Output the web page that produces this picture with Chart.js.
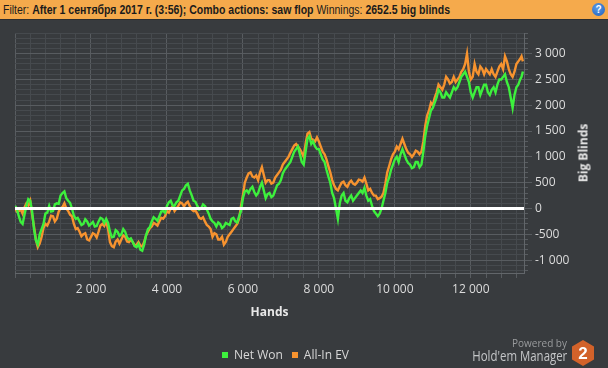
<!DOCTYPE html>
<html><head><meta charset="utf-8">
<script src="https://cdn.jsdelivr.net/npm/chart.js@4.4.1/dist/chart.umd.min.js"></script>
<style>
html,body{margin:0;padding:0;background:#383b3e;width:608px;height:368px;overflow:hidden}
#wrap{position:relative;width:608px;height:368px}
#c{position:absolute;left:0;top:0}
#hdr{position:absolute;left:0;top:0;width:608px;height:19px;background:#f5aa4c;border-bottom:1px solid #2c2e30;}
#hdrtxt{position:absolute;left:3px;top:3px;font:12px "Liberation Sans",Arial,sans-serif;color:#1b1b1b;white-space:nowrap;transform-origin:0 0}
#hdrtxt b{font-weight:bold}
#help{position:absolute;left:592px;top:3px;width:13px;height:13px;border-radius:50%;background:radial-gradient(circle at 40% 35%,#5b9be8,#1f5fb8);color:#fff;font:bold 10px "Liberation Sans",sans-serif;text-align:center;line-height:13px}
#ytitle{position:absolute;left:583px;top:153px;transform:translate(-50%,-50%) rotate(-90deg);font:bold 12px "Open Sans",sans-serif;color:#e8e8e8;white-space:nowrap}
#legend{position:absolute;left:222px;top:346px;font:12px "Open Sans",sans-serif;color:#d8d8d8;white-space:nowrap}
#legend span.sq{display:inline-block;width:6px;height:6px;margin-right:6px;vertical-align:1px}
#legend span.it{margin-right:9px}
#pow{position:absolute;right:41px;top:336px;font:10px "Open Sans",sans-serif;color:#9a9c9e;text-align:right}
#hm{position:absolute;right:41px;top:346px;font:14px "Open Sans",sans-serif;color:#c4c6c8;white-space:nowrap;transform-origin:100% 0}
#logo{position:absolute;left:571px;top:339px}
</style></head>
<body><div id="wrap">
<canvas id="c" width="608" height="368"></canvas>
<div id="hdr"><div id="hdrtxt">Filter: <b>After 1 сентября 2017 г. (3:56); Combo actions: saw flop</b> Winnings: <b>2652.5 big blinds</b></div><div id="help">?</div></div>
<div id="ytitle">Big Blinds</div>
<div id="legend"><span class="it"><span class="sq" style="background:#3df03d"></span>Net Won</span><span class="it"><span class="sq" style="background:#f7932f"></span>All-In EV</span></div>
<div id="pow">Powered by</div>
<div id="hm">Hold'em Manager</div>
<svg id="logo" width="24" height="28" viewBox="0 0 24 28"><polygon points="12,1 23,7.5 23,20.5 12,27 1,20.5 1,7.5" fill="#d2622a"/><text x="12" y="20" text-anchor="middle" font-family="Liberation Sans,Arial,sans-serif" font-weight="bold" font-size="17" fill="#fff">2</text></svg>
</div>
<script>
const hands = [
0,50,100,150,200,250,300,350,400,450,500,550,600,650,700,750,800,850,900,950,
1000,1050,1100,1150,1200,1250,1300,1350,1400,1450,1500,1550,1600,1650,1700,1750,1800,1850,1900,1950,
2000,2050,2100,2150,2200,2250,2300,2350,2400,2450,2500,2550,2600,2650,2700,2750,2800,2850,2900,2950,
3000,3050,3100,3150,3200,3250,3300,3350,3400,3450,3500,3550,3600,3650,3700,3750,3800,3850,3900,3950,
4000,4050,4100,4150,4200,4250,4300,4350,4400,4450,4500,4550,4600,4650,4700,4750,4800,4850,4900,4950,
5000,5050,5100,5150,5200,5250,5300,5350,5400,5450,5500,5550,5600,5650,5700,5750,5800,5850,5900,5950,
6000,6050,6100,6150,6200,6250,6300,6350,6400,6450,6500,6550,6600,6650,6700,6750,6800,6850,6900,6950,
7000,7050,7100,7150,7200,7250,7300,7350,7400,7450,7500,7550,7600,7650,7700,7750,7800,7850,7900,7950,
8000,8050,8100,8150,8200,8250,8300,8350,8400,8450,8500,8550,8600,8650,8700,8750,8800,8850,8900,8950,
9000,9050,9100,9150,9200,9250,9300,9350,9400,9450,9500,9550,9600,9650,9700,9750,9800,9850,9900,9950,
10000,10050,10100,10150,10200,10250,10300,10350,10400,10450,10500,10550,10600,10650,10700,10750,10800,10850,10900,10950,
11000,11050,11100,11150,11200,11250,11300,11350,11400,11450,11500,11550,11600,11650,11700,11750,11800,11850,11900,11950,
12000,12050,12100,12150,12200,12250,12300,12350,12400,12450,12500,12550,12600,12650,12700,12750,12800,12850,12900,12950,
13000,13050,13100,13150,13200,13250,13300,13335,13370];

const netWon = [
50,-10,-150,-260,-300,-120,50,180,150,-50,-400,-620,-700,-500,-400,-300,-100,-80,50,-60,
-50,80,100,90,250,300,330,200,150,110,0,-140,-200,-180,-250,-320,-300,-210,-250,-330,
-300,-260,-350,-340,-250,-180,-200,-280,-200,-280,-450,-560,-550,-420,-450,-530,-500,-400,-450,-560,
-600,-580,-650,-730,-750,-690,-800,-820,-700,-520,-400,-360,-250,-170,-200,-240,-150,-60,-50,-80,
50,120,150,60,50,120,150,250,350,380,450,480,350,260,150,130,50,-20,0,80,
50,-20,-100,-200,-250,-280,-350,-270,-300,-380,-350,-280,-300,-320,-200,-180,-250,-270,-150,-50,
200,330,350,300,380,420,320,250,300,420,500,350,200,280,300,220,250,350,450,480,
550,680,750,800,850,900,1000,1100,1150,1200,1050,900,850,1100,1350,1400,1250,1300,1200,1150,
1150,1050,950,900,750,620,500,300,200,0,-200,100,250,300,150,120,200,250,150,200,
250,300,350,300,400,250,150,180,50,-50,-100,-150,-100,0,150,300,500,600,750,850,
950,1000,900,1050,1150,1050,950,880,850,780,800,900,900,800,850,1100,1400,1600,1750,1900,
1950,2050,2150,2300,2250,2150,2150,2250,2200,2150,2250,2350,2300,2350,2450,2550,2600,2650,2550,2450,
2250,2150,2250,2350,2350,2200,2300,2400,2400,2250,2200,2300,2350,2250,2400,2500,2500,2550,2600,2450,
2350,2150,1950,2200,2350,2400,2500,2550,2652.5];

const allInEV = [
0,-60,-50,-20,-100,20,100,60,150,-120,-350,-600,-750,-680,-550,-380,-300,-330,-250,-140,
-150,-250,-200,-60,0,30,100,0,-50,-120,-150,-300,-400,-380,-450,-540,-500,-480,-600,-620,
-550,-480,-500,-560,-450,-330,-300,-340,-250,-400,-650,-730,-750,-640,-600,-680,-600,-520,-550,-640,
-650,-600,-650,-720,-700,-650,-720,-740,-650,-520,-450,-380,-350,-280,-300,-330,-250,-180,-200,-150,
-50,-80,0,40,-50,0,50,120,100,40,100,130,50,-20,-50,-40,-100,-180,-200,-170,
-250,-320,-350,-400,-550,-480,-500,-600,-600,-550,-700,-650,-550,-500,-450,-400,-350,-300,-200,50,
250,500,600,680,700,620,600,640,550,700,800,650,500,550,550,480,500,600,650,700,
750,850,900,950,1000,1080,1150,1220,1250,1200,1150,1080,1000,1250,1450,1480,1350,1330,1300,1380,
1300,1200,1100,1050,950,820,700,550,450,380,350,430,500,520,450,420,500,540,480,460,
500,560,550,520,600,480,350,380,300,250,250,180,200,230,300,480,700,820,950,1050,
1100,1200,1150,1250,1350,1250,1150,1080,1050,1000,1050,1120,1100,1050,1100,1300,1600,1800,1900,2050,
2000,2150,2250,2400,2350,2300,2400,2550,2500,2420,2450,2550,2450,2500,2550,2650,2700,2800,3000,2650,
2500,2550,2800,2650,2600,2750,2700,2600,2700,2650,2600,2700,2600,2550,2650,2750,2800,2700,2950,2850,
2700,2600,2550,2650,2800,2850,2900,2950,2850];

const seriesNames = ['Net Won', 'All-In EV'];
const xTickValues = [0, 2000, 4000, 6000, 8000, 10000, 12000];
const yTickValues = [-1000, -500, 0, 500, 1000, 1500, 2000, 2500, 3000];
const X_MIN = 0, X_MAX = 13400, Y_MIN = -1250, Y_MAX = 3400;
const X_MINOR_STEP = 400, Y_MINOR_STEP = 100;

const GRID_MINOR = '#464a4e', GRID_MAJOR = '#585c60', TEXT = '#dcdcdc';
const fmt = v => { const s = Math.abs(v).toString().replace(/\B(?=(\d{3})+(?!\d))/g, ' '); return (v < 0 ? '-' : '') + s; };
const pts = arr => arr.map((v, i) => ({x: hands[i], y: v}));
const minorTicks = (lo, hi, step) => { const t = []; for (let v = Math.ceil(lo / step) * step; v <= hi; v += step) t.push({value: v}); return t; };

new Chart(document.getElementById('c'), {
  type: 'line',
  data: {
    datasets: [
      {label: seriesNames[0], data: pts(netWon), borderColor: '#3df03d', borderWidth: 2.4, pointRadius: 0, tension: 0, borderJoinStyle: 'miter'},
      {label: seriesNames[1], data: pts(allInEV), borderColor: '#f7932f', borderWidth: 2.4, pointRadius: 0, tension: 0, borderJoinStyle: 'miter'}
    ]
  },
  options: {
    responsive: false, animation: false, events: [],
    layout: {padding: {left: 15, top: 33, right: 0, bottom: 45}},
    plugins: {legend: {display: false}, tooltip: {enabled: false}},
    scales: {
      xm: {type: 'linear', position: 'bottom', weight: 0, min: X_MIN, max: X_MAX,
        afterBuildTicks: s => { s.ticks = minorTicks(X_MIN, X_MAX, X_MINOR_STEP); },
        ticks: {display: false},
        grid: {color: GRID_MINOR, tickColor: GRID_MAJOR, tickLength: 5},
        border: {display: false},
        afterFit: s => { s.height = 0; }},
      x: {type: 'linear', position: 'bottom', weight: 1, min: X_MIN, max: X_MAX,
        afterBuildTicks: s => { s.ticks = xTickValues.map(v => ({value: v})); },
        ticks: {color: TEXT, padding: 4, maxRotation: 0, autoSkip: false,
          font: {family: 'Open Sans', size: 12},
          callback: v => v === 0 ? '' : fmt(v)},
        grid: {color: GRID_MAJOR, tickColor: GRID_MAJOR, tickLength: 5},
        border: {display: true, color: '#62666a'},
        title: {display: true, text: 'Hands', color: '#e8e8e8', font: {family: 'Open Sans', size: 12, weight: 'bold'}, padding: {top: 0, bottom: 3}},
        afterFit: s => { s.height = 50; }},
      yz: {type: 'linear', position: 'right', weight: 0, min: Y_MIN, max: Y_MAX,
        afterBuildTicks: s => { s.ticks = [{value: 0}]; },
        ticks: {display: false},
        grid: {color: '#ffffff', lineWidth: 3, drawTicks: false, z: 1},
        border: {display: false},
        afterFit: s => { s.width = 0; }},
      ym: {type: 'linear', position: 'right', weight: 1, min: Y_MIN, max: Y_MAX,
        afterBuildTicks: s => { s.ticks = minorTicks(Y_MIN, Y_MAX, Y_MINOR_STEP); },
        ticks: {display: false},
        grid: {color: GRID_MINOR, tickColor: GRID_MAJOR, tickLength: 4},
        border: {display: false},
        afterFit: s => { s.width = 0; }},
      y: {type: 'linear', position: 'right', weight: 2, min: Y_MIN, max: Y_MAX,
        afterBuildTicks: s => { s.ticks = yTickValues.map(v => ({value: v})); },
        ticks: {color: TEXT, padding: 3, autoSkip: false,
          font: {family: 'Open Sans', size: 12}, callback: v => fmt(v)},
        grid: {color: ctx => (ctx.tick && ctx.tick.value === 0) ? 'rgba(0,0,0,0)' : GRID_MAJOR, tickColor: GRID_MAJOR, tickLength: 8},
        border: {display: true, color: '#62666a'},
        afterFit: s => { s.width = 84; }}
    }
  }
});

const ht = document.getElementById('hdrtxt');
ht.style.transform = 'scaleX(' + (447 / ht.getBoundingClientRect().width) + ')';
const hm = document.getElementById('hm');
hm.style.transform = 'scaleX(' + (95 / hm.getBoundingClientRect().width) + ')';
</script>
</body></html>
